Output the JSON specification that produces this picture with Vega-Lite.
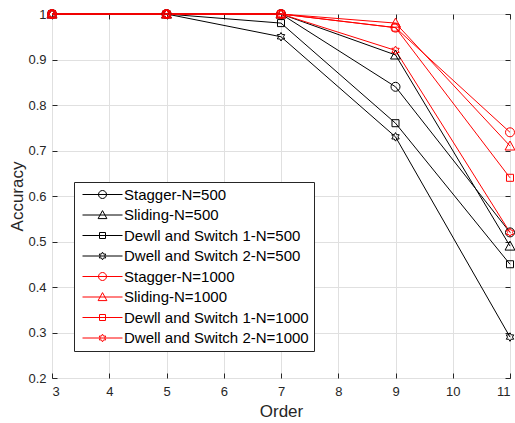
{
  "$schema": "https://vega.github.io/schema/vega-lite/v6.json",
  "width": 458,
  "height": 364,
  "autosize": {"type": "none"},
  "padding": {"left": 52, "top": 14, "right": 5, "bottom": 45},
  "background": "white",
  "config": {
    "font": "Liberation Sans",
    "view": {"stroke": "#262626", "strokeWidth": 1},
    "axis": {
      "domain": false,
      "gridColor": "#e0e0e0",
      "gridWidth": 1,
      "tickColor": "#262626",
      "tickSize": -5,
      "labelColor": "#262626",
      "labelFontSize": 13,
      "labelFont": "Liberation Sans",
      "titleColor": "#262626",
      "titleFontSize": 17,
      "titleFontWeight": "normal",
      "titleFont": "Liberation Sans"
    }
  },
  "data": {
    "values": [
      {"series": "Stagger-N=500", "order": 3, "accuracy": 1},
      {"series": "Stagger-N=500", "order": 5, "accuracy": 1},
      {"series": "Stagger-N=500", "order": 7, "accuracy": 1},
      {"series": "Stagger-N=500", "order": 9, "accuracy": 0.84},
      {"series": "Stagger-N=500", "order": 11, "accuracy": 0.52},
      {"series": "Sliding-N=500", "order": 3, "accuracy": 1},
      {"series": "Sliding-N=500", "order": 5, "accuracy": 1},
      {"series": "Sliding-N=500", "order": 7, "accuracy": 1},
      {"series": "Sliding-N=500", "order": 9, "accuracy": 0.91},
      {"series": "Sliding-N=500", "order": 11, "accuracy": 0.49},
      {"series": "Dewll and Switch 1-N=500", "order": 3, "accuracy": 1},
      {"series": "Dewll and Switch 1-N=500", "order": 5, "accuracy": 1},
      {"series": "Dewll and Switch 1-N=500", "order": 7, "accuracy": 0.98},
      {"series": "Dewll and Switch 1-N=500", "order": 9, "accuracy": 0.76},
      {"series": "Dewll and Switch 1-N=500", "order": 11, "accuracy": 0.45},
      {"series": "Dwell and Switch 2-N=500", "order": 3, "accuracy": 1},
      {"series": "Dwell and Switch 2-N=500", "order": 5, "accuracy": 1},
      {"series": "Dwell and Switch 2-N=500", "order": 7, "accuracy": 0.95},
      {"series": "Dwell and Switch 2-N=500", "order": 9, "accuracy": 0.73},
      {"series": "Dwell and Switch 2-N=500", "order": 11, "accuracy": 0.29},
      {"series": "Stagger-N=1000", "order": 3, "accuracy": 1},
      {"series": "Stagger-N=1000", "order": 5, "accuracy": 1},
      {"series": "Stagger-N=1000", "order": 7, "accuracy": 1},
      {"series": "Stagger-N=1000", "order": 9, "accuracy": 0.97},
      {"series": "Stagger-N=1000", "order": 11, "accuracy": 0.74},
      {"series": "Sliding-N=1000", "order": 3, "accuracy": 1},
      {"series": "Sliding-N=1000", "order": 5, "accuracy": 1},
      {"series": "Sliding-N=1000", "order": 7, "accuracy": 1},
      {"series": "Sliding-N=1000", "order": 9, "accuracy": 0.98},
      {"series": "Sliding-N=1000", "order": 11, "accuracy": 0.71},
      {"series": "Dewll and Switch 1-N=1000", "order": 3, "accuracy": 1},
      {"series": "Dewll and Switch 1-N=1000", "order": 5, "accuracy": 1},
      {"series": "Dewll and Switch 1-N=1000", "order": 7, "accuracy": 1},
      {"series": "Dewll and Switch 1-N=1000", "order": 9, "accuracy": 0.97},
      {"series": "Dewll and Switch 1-N=1000", "order": 11, "accuracy": 0.64},
      {"series": "Dwell and Switch 2-N=1000", "order": 3, "accuracy": 1},
      {"series": "Dwell and Switch 2-N=1000", "order": 5, "accuracy": 1},
      {"series": "Dwell and Switch 2-N=1000", "order": 7, "accuracy": 1},
      {"series": "Dwell and Switch 2-N=1000", "order": 9, "accuracy": 0.92},
      {"series": "Dwell and Switch 2-N=1000", "order": 11, "accuracy": 0.52}
    ]
  },
  "layer": [
    {
      "mark": {"type": "line", "strokeWidth": 1, "clip": false},
      "encoding": {
        "x": {
          "field": "order", "type": "quantitative",
          "scale": {"domain": [3, 11], "nice": false, "zero": false},
          "axis": {"orient": "bottom", "values": [3, 4, 5, 6, 7, 8, 9, 10, 11], "format": "d", "grid": true, "title": "Order", "labelPadding": 12, "titlePadding": 5}
        },
        "y": {
          "field": "accuracy", "type": "quantitative",
          "scale": {"domain": [0.2, 1], "nice": false, "zero": false},
          "axis": {"orient": "left", "values": [0.2, 0.3, 0.4, 0.5, 0.6, 0.7, 0.8, 0.9, 1], "format": "~g", "grid": true, "title": "Accuracy", "labelPadding": 11, "titlePadding": 1}
        },
        "color": {
          "field": "series", "type": "nominal", "legend": null,
          "scale": {
            "domain": ["Stagger-N=500", "Sliding-N=500", "Dewll and Switch 1-N=500", "Dwell and Switch 2-N=500", "Stagger-N=1000", "Sliding-N=1000", "Dewll and Switch 1-N=1000", "Dwell and Switch 2-N=1000"],
            "range": ["#000000", "#000000", "#000000", "#000000", "#ff0000", "#ff0000", "#ff0000", "#ff0000"]
          }
        }
      }
    },
    {
      "mark": {"type": "point", "filled": false, "strokeWidth": 1, "size": 81, "opacity": 1, "clip": false},
      "encoding": {
        "x": {"field": "order", "type": "quantitative", "axis": {"orient": "top", "values": [3, 4, 5, 6, 7, 8, 9, 10, 11], "labels": false, "grid": false, "title": null}},
        "y": {"field": "accuracy", "type": "quantitative", "axis": {"orient": "right", "values": [0.2, 0.3, 0.4, 0.5, 0.6, 0.7, 0.8, 0.9, 1], "labels": false, "grid": false, "title": null}},
        "color": {
          "field": "series", "type": "nominal", "legend": null,
          "scale": {
            "domain": ["Stagger-N=500", "Sliding-N=500", "Dewll and Switch 1-N=500", "Dwell and Switch 2-N=500", "Stagger-N=1000", "Sliding-N=1000", "Dewll and Switch 1-N=1000", "Dwell and Switch 2-N=1000"],
            "range": ["#000000", "#000000", "#000000", "#000000", "#ff0000", "#ff0000", "#ff0000", "#ff0000"]
          }
        },
        "shape": {
          "field": "series", "type": "nominal", "legend": null,
          "scale": {
            "domain": ["Stagger-N=500", "Sliding-N=500", "Dewll and Switch 1-N=500", "Dwell and Switch 2-N=500", "Stagger-N=1000", "Sliding-N=1000", "Dewll and Switch 1-N=1000", "Dwell and Switch 2-N=1000"],
            "range": [
              "M1,0A1,1,0,1,1,-1,0A1,1,0,1,1,1,0Z",
              "M0,-1.1L1.1,0.9L-1.1,0.9Z",
              "M-0.78,-0.78H0.78V0.78H-0.78Z",
              "M0,-0.95L0.27,-0.48L0.82,-0.48L0.55,0L0.82,0.48L0.27,0.48L0,0.95L-0.27,0.48L-0.82,0.48L-0.55,0L-0.82,-0.48L-0.27,-0.48Z",
              "M1,0A1,1,0,1,1,-1,0A1,1,0,1,1,1,0Z",
              "M0,-1.1L1.1,0.9L-1.1,0.9Z",
              "M-0.78,-0.78H0.78V0.78H-0.78Z",
              "M0,-0.95L0.27,-0.48L0.82,-0.48L0.55,0L0.82,0.48L0.27,0.48L0,0.95L-0.27,0.48L-0.82,0.48L-0.55,0L-0.82,-0.48L-0.27,-0.48Z"
            ]
          }
        }
      }
    },
    {
      "mark": {"type": "point", "filled": false, "strokeWidth": 1, "size": 64, "opacity": 0},
      "encoding": {
        "x": {"field": "order", "type": "quantitative", "axis": null},
        "y": {"field": "accuracy", "type": "quantitative", "axis": null},
        "color": {
          "field": "series", "type": "nominal",
          "scale": {
            "domain": ["Stagger-N=500", "Sliding-N=500", "Dewll and Switch 1-N=500", "Dwell and Switch 2-N=500", "Stagger-N=1000", "Sliding-N=1000", "Dewll and Switch 1-N=1000", "Dwell and Switch 2-N=1000"],
            "range": ["#000000", "#000000", "#000000", "#000000", "#ff0000", "#ff0000", "#ff0000", "#ff0000"]
          },
          "legend": {
            "orient": "none", "legendX": 22, "legendY": 168, "title": null,
            "fillColor": "white", "strokeColor": "#262626", "padding": 5,
            "symbolSize": 64, "symbolStrokeWidth": 1, "symbolOpacity": 1, "symbolFillColor": "transparent",
            "symbolOffset": 16, "labelOffset": 14, "rowPadding": 4.5,
            "labelFontSize": 15, "labelFont": "Liberation Sans", "labelColor": "#000000", "labelLimit": 400
          }
        },
        "shape": {
          "field": "series", "type": "nominal",
          "scale": {
            "domain": ["Stagger-N=500", "Sliding-N=500", "Dewll and Switch 1-N=500", "Dwell and Switch 2-N=500", "Stagger-N=1000", "Sliding-N=1000", "Dewll and Switch 1-N=1000", "Dwell and Switch 2-N=1000"],
            "range": [
              "M-5,0H5M1,0A1,1,0,1,1,-1,0A1,1,0,1,1,1,0Z",
              "M-5,0H5M0,-1.1L1.1,0.9L-1.1,0.9Z",
              "M-5,0H5M-0.75,-0.75H0.75V0.75H-0.75Z",
              "M-5,0H5M0,-0.95L0.27,-0.48L0.82,-0.48L0.55,0L0.82,0.48L0.27,0.48L0,0.95L-0.27,0.48L-0.82,0.48L-0.55,0L-0.82,-0.48L-0.27,-0.48Z",
              "M-5,0H5M1,0A1,1,0,1,1,-1,0A1,1,0,1,1,1,0Z",
              "M-5,0H5M0,-1.1L1.1,0.9L-1.1,0.9Z",
              "M-5,0H5M-0.75,-0.75H0.75V0.75H-0.75Z",
              "M-5,0H5M0,-0.95L0.27,-0.48L0.82,-0.48L0.55,0L0.82,0.48L0.27,0.48L0,0.95L-0.27,0.48L-0.82,0.48L-0.55,0L-0.82,-0.48L-0.27,-0.48Z"
            ]
          }
        }
      }
    }
  ],
  "resolve": {
    "scale": {"shape": "independent", "color": "independent"},
    "axis": {"x": "independent", "y": "independent"}
  }
}
